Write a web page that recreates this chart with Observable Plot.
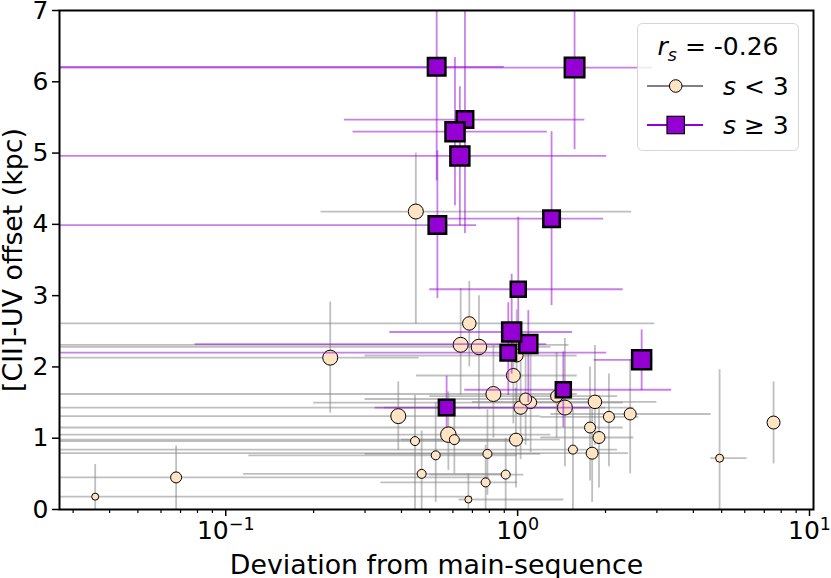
<!DOCTYPE html>
<html><head><meta charset="utf-8">
<script src="https://cdn.jsdelivr.net/npm/d3@7"></script>
<script src="https://cdn.jsdelivr.net/npm/@observablehq/plot@0.6"></script>
<style>
body{margin:0;background:#fff;}
#wrap{position:relative;width:831px;height:578px;font-family:"DejaVu Sans";}
#legend{position:absolute;left:637px;top:23px;}
g[aria-label="x-axis label"] text, g[aria-label="y-axis label"] text{font-size:26.8px;}
</style></head><body><div id="wrap"></div>
<script>
// s < 3 sample (circles)
const lowX   = [0.0357,0.0676,0.228,0.448,0.39,0.445,0.524,0.469,0.579,0.607,0.683,0.638,0.737,0.678,0.788,0.777,0.826,0.910,0.987,0.967,1.024,1.108,1.065,0.992,1.36,1.452,1.547,1.84,1.77,1.90,1.80,2.055,2.43,4.92,7.53];
const lowY   = [0.18,0.45,2.13,4.18,1.31,0.96,0.76,0.50,1.05,0.98,2.61,2.31,2.28,0.14,0.78,0.38,1.62,0.49,0.98,1.88,1.43,1.50,1.55,2.16,1.59,1.43,0.84,1.51,1.15,1.01,0.79,1.30,1.34,0.72,1.22];
const lowXlo = [0.001,0.001,0.001,0.212,0.001,0.001,0.12,0.115,0.001,0.001,0.001,0.001,0.001,0.63,0.30,0.34,0.001,0.5,0.4,0.45,0.001,0.2,0.3,0.3,0.5,0.35,0.001,0.7,0.001,1.2,0.001,1.2,1.3,4.59,7.3];
const lowXhi = [0.70,0.80,0.46,2.46,1.2,1.0,1.0,0.95,1.3,1.1,2.95,1.5,1.3,1.44,1.2,1.0,1.6,1.05,1.4,1.6,2.0,2.3,1.8,1.6,2.2,2.5,2.2,3.0,2.3,2.5,2.4,2.6,4.6,6.11,7.8];
const lowYlo = [0,0,1.35,2.6,0.83,0,0.1,0,0.55,0.5,2.0,1.6,1.4,0,0.2,0,1.0,0,0.3,1.2,0.7,0.8,0.9,1.5,1.0,0.6,0,0.9,0.4,0.3,0.1,0.6,0.5,0,0.64];
const lowYhi = [0.63,0.89,2.91,5.0,1.79,1.6,1.5,1.1,1.65,1.5,3.2,3.1,3.0,0.5,1.4,0.9,2.3,1.0,1.7,2.6,2.2,2.2,2.3,2.8,2.2,2.4,1.4,2.3,2.0,1.6,1.4,1.9,2.1,1.96,1.79];
const lowSize = [8,12,16,16,16,10,10,10,16.5,11,14.5,16,16.5,8,10,10,16,10,14,15,14.5,13,13,14,13,16,10,14.5,12,13,13,12,13,9,14];

// s >= 3 sample (squares)
const highX   = [0.528,1.567,0.660,0.610,0.634,0.531,1.307,1.005,1.088,0.954,0.929,2.66,1.434,0.571];
const highY   = [6.21,6.20,5.47,5.30,4.96,3.99,4.08,3.09,2.32,2.49,2.20,2.10,1.68,1.43];
const highXlo = [0.001,0.001,0.255,0.273,0.001,0.001,0.579,0.50,0.0785,0.365,0.001,1.83,0.659,0.325];
const highXhi = [0.9,2.90,1.70,1.264,2.02,0.724,1.97,2.30,1.257,1.54,2.02,2.91,3.37,1.76];
const highYlo = [4.61,5.05,3.87,4.26,3.98,2.96,2.86,2.5,1.50,1.9,1.6,1.67,1.15,1.15];
const highYhi = [7.5,7.5,7.5,6.34,5.93,5.03,5.30,4.10,2.79,3.3,2.9,2.52,2.21,1.87];
const highSize = [20,22,19,21.5,21.5,20,19,17.5,20.5,21.5,18,21.5,17.5,18];

const xDomain = [0.02694, 10.32];
const xTicks = [0.1, 1, 10];
const xTickBase = ["10", "10", "10"];
const xTickExp = ["\u22121", "0", "1"];
const yTicks = [0,1,2,3,4,5,6,7];
const xMinor = [0.01,0.1,1].flatMap(d => [2,3,4,5,6,7,8,9].map(k => k*d)).filter(v => v >= xDomain[0] && v <= xDomain[1]);
const rsText = "-0.26";

const lowTable = lowX.map((x,i)=>({x, y: lowY[i], xlo: lowXlo[i], xhi: lowXhi[i], ylo: lowYlo[i], yhi: lowYhi[i], ms: lowSize[i]}));
const highTable = highX.map((x,i)=>({x, y: highY[i], xlo: highXlo[i], xhi: highXhi[i], ylo: highYlo[i], yhi: highYhi[i], ms: highSize[i]}));

const grey = "#808080", violet = "#9400d3", bisque = "#ffe4c4";

const chart = Plot.plot({
  width: 831, height: 578,
  marginLeft: 59, marginRight: 18, marginTop: 10, marginBottom: 69,
  x: {type: "log", domain: xDomain},
  y: {domain: [0, 7]},
  r: {type: "identity"},
  style: {fontFamily: "DejaVu Sans", fontSize: "25px", color: "black", background: "white"},
  marks: [
    Plot.ruleY(lowTable, {y: "y", x1: "xlo", x2: "xhi", stroke: grey, strokeOpacity: 0.5, strokeWidth: 1.8, clip: true}),
    Plot.ruleX(lowTable, {x: "x", y1: "ylo", y2: "yhi", stroke: grey, strokeOpacity: 0.5, strokeWidth: 1.8, clip: true}),
    Plot.dot(lowTable, {x: "x", y: "y", r: d => d.ms/2 - 0.5, fill: bisque, stroke: "black", strokeWidth: 1, sort: null, clip: true}),
    Plot.ruleY(highTable, {y: "y", x1: "xlo", x2: "xhi", stroke: violet, strokeOpacity: 0.5, strokeWidth: 1.8, clip: true}),
    Plot.ruleX(highTable, {x: "x", y1: "ylo", y2: "yhi", stroke: violet, strokeOpacity: 0.5, strokeWidth: 1.8, clip: true}),
    Plot.dot(highTable, {x: "x", y: "y", symbol: "square", r: d => (d.ms - 2.5)/Math.sqrt(Math.PI), fill: violet, stroke: "black", strokeWidth: 2.5, sort: null, clip: true}),
    Plot.axisX({ticks: xMinor, tickSize: 4, tickFormat: () => "", strokeWidth: 1.2, label: null}),
    Plot.axisX({ticks: xTicks, tickSize: 7, tickPadding: 5, strokeWidth: 1.5,
      tickFormat: d => { const i = xTicks.indexOf(d); return xTickBase[i] + "^" + xTickExp[i]; },
      label: "Deviation from main-sequence", labelAnchor: "center", labelOffset: 64, labelArrow: "none"}),
    Plot.axisY({ticks: yTicks, tickSize: 7, tickPadding: 4, strokeWidth: 1.5, tickFormat: d => String(d),
      label: "[CII]-UV offset (kpc)", labelAnchor: "center", labelOffset: 57, labelArrow: "none"}),
    Plot.frame({stroke: "black", strokeWidth: 2})
  ]
});
// render exponents as raised, smaller text
chart.querySelectorAll('g[aria-label="x-axis tick label"] text').forEach(t => {
  const s = t.textContent;
  if (s.includes("^")) {
    const [b, e] = s.split("^");
    t.textContent = "";
    const tb = document.createElementNS("http://www.w3.org/2000/svg", "tspan");
    tb.textContent = b;
    const te = document.createElementNS("http://www.w3.org/2000/svg", "tspan");
    te.textContent = e;
    te.setAttribute("font-size", "17.5px");
    te.setAttribute("dy", "-9");
    t.appendChild(tb); t.appendChild(te);
  }
});
const wrap = document.getElementById("wrap");
wrap.appendChild(chart);

// legend
const ns = "http://www.w3.org/2000/svg";
const lg = document.createElementNS(ns, "svg");
lg.setAttribute("id", "legend");
lg.setAttribute("width", 164); lg.setAttribute("height", 130);
lg.innerHTML = `
<rect x="0.5" y="0.5" width="161" height="127" rx="5" fill="white" fill-opacity="0.8" stroke="#d6d6d6"/>
<text x="81" y="32" text-anchor="middle" font-family="DejaVu Sans" font-size="25"><tspan font-style="italic">r</tspan><tspan font-style="italic" font-size="17.5" dy="6">s</tspan><tspan dy="-6"> =  ${rsText}</tspan></text>
<line x1="10" x2="66" y1="63" y2="63" stroke="${grey}" stroke-width="1.8"/>
<circle cx="38.7" cy="63" r="6.3" fill="${bisque}" stroke="black" stroke-width="1"/>
<text x="86" y="72" font-family="DejaVu Sans" font-size="25" xml:space="preserve"><tspan font-style="italic">s</tspan> &lt; 3</text>
<line x1="10" x2="66" y1="102" y2="102" stroke="${violet}" stroke-width="1.8"/>
<rect x="30" y="93.3" width="17.4" height="17.4" fill="${violet}" stroke="black" stroke-width="1.2"/>
<text x="86" y="111" font-family="DejaVu Sans" font-size="25" xml:space="preserve"><tspan font-style="italic">s</tspan> \u2265 3</text>`;
wrap.appendChild(lg);
</script>
</body></html>
